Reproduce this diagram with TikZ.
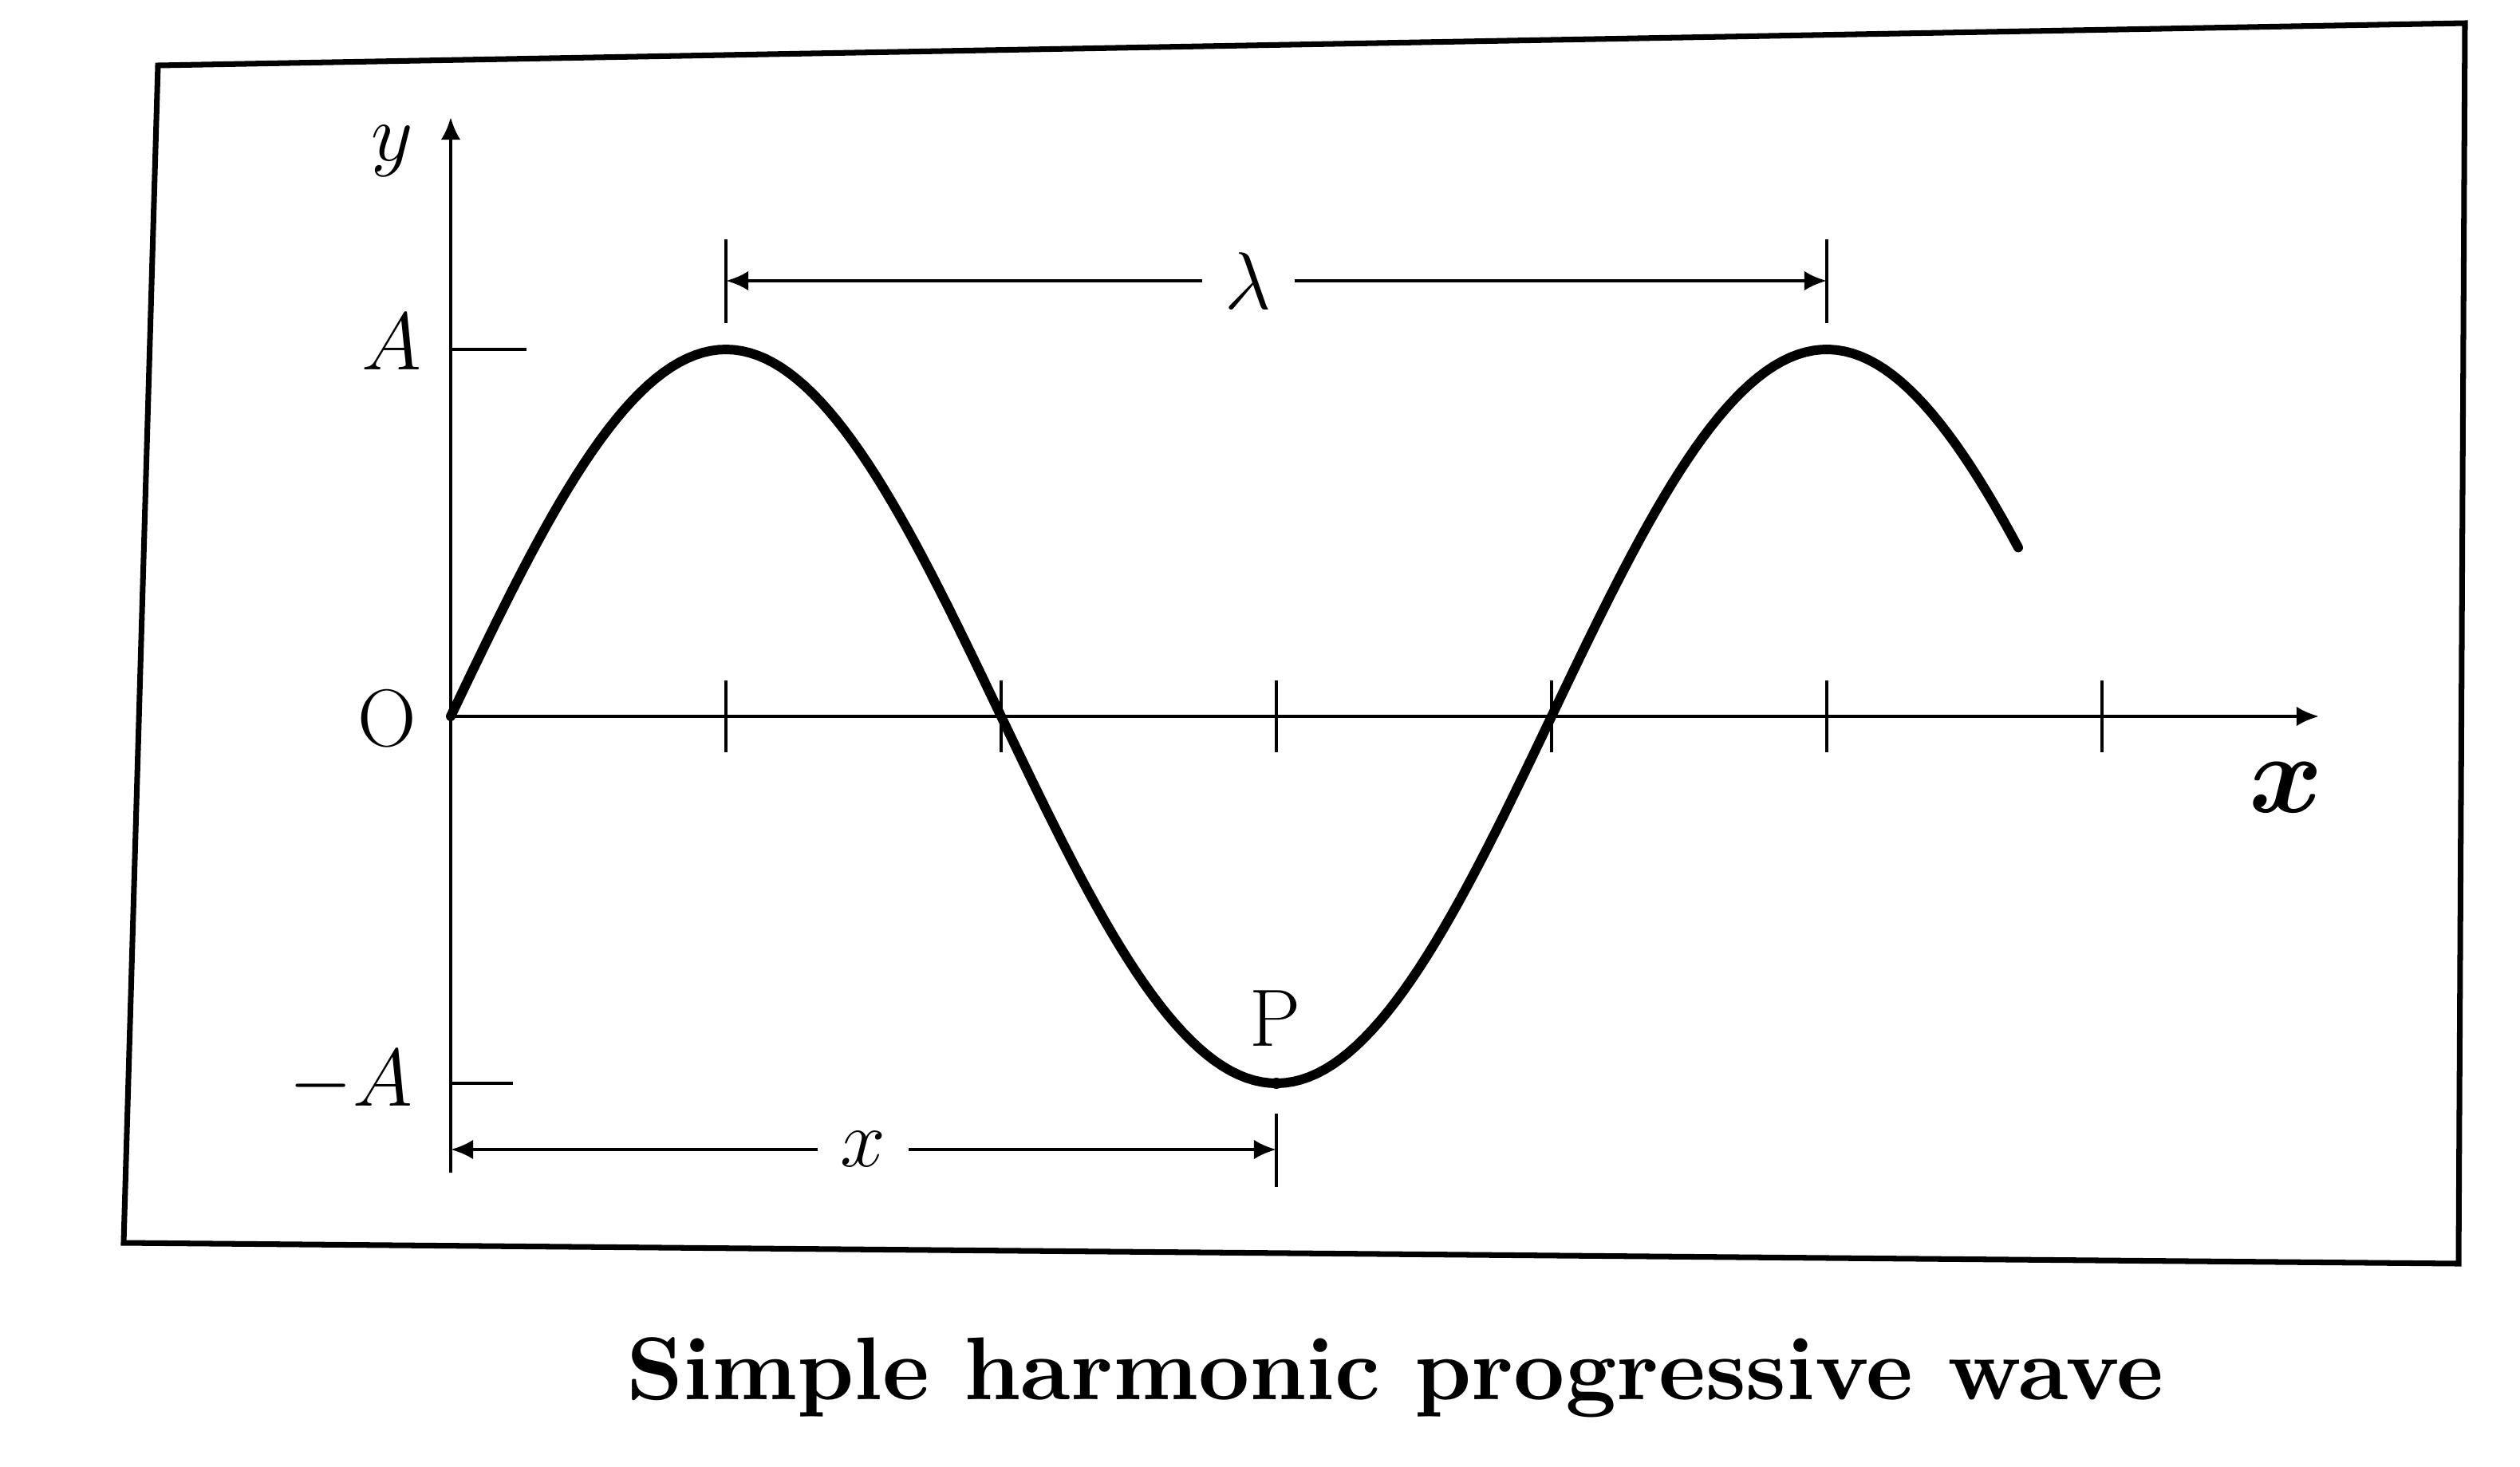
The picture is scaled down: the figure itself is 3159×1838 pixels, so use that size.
\RequirePackage{fix-cm}
\documentclass[tikz,border=0pt]{standalone}
\usepackage{fontspec}
\usepackage{graphicx}
\usetikzlibrary{arrows.meta}
\tikzset{
  axis/.style={line width=1.2pt,-{Latex[length=8pt,width=7pt]}},
  wave/.style={line width=3.4pt,line cap=round},
  tick/.style={line width=1pt},
  dimarrow/.style={line width=1.2pt,-{Latex[length=8pt,width=7pt]}},
  lbl/.style={font=\fontsize{29}{34}\selectfont,inner sep=0pt},
  biglbl/.style={font=\fontsize{40}{46}\selectfont\boldmath,inner sep=0pt},
}
\begin{document}
\begin{tikzpicture}[x=0.01cm,y=-0.01cm]
        \useasboundingbox (0,0) rectangle (3159,1838);

        % frame
        \draw[line width=2pt] (198,82) -- (3090,29) -- (3082,1584) -- (155,1558) -- cycle;

        % axes
        \coordinate (O) at (565,898);
        \draw[axis] (565,1470) -- (565,147) coordinate (ytip);
        \draw[axis] (O) -- (2907,898) coordinate (xtip);

        % quarter wavelength ticks
        \foreach \k in {1,...,6}
            \draw[tick] (565+345*\k,853) -- (565+345*\k,943);

        % the wave
        \draw[wave] plot[domain=0:1965,samples=200] ({565+\x},{898-460*sin(\x/1380*360)});

        % amplitude marks
        \draw[tick] (565,438) -- (660,438);
        \draw[tick] (565,1358) -- (643,1358);

        \node[lbl] (ylab) at (492,189) {$y$};
        \node[lbl] (Alab) at (491,429) {$A$};
        \node[lbl] (Olab) at (485,901) {O};
        \node[lbl] (mAlab) at (440,1356) {$-A$};
        \node[biglbl] (xlab) at (2866,987) {$x$};

        % wavelength
        \draw[tick] (910,300) -- (910,405);
        \draw[tick] (2290,300) -- (2290,405);
        \node[lbl,inner sep=8pt] (lam) at (1565,352) {$\lambda$};
        \draw[dimarrow] (lam.west) -- (910,352);
        \draw[dimarrow] (lam.east) -- (2290,352);

        % point P
        \fill (1600,1358) circle (7);
        \node[lbl] (Plab) at (1599,1277) {P};

        % distance x
        \draw[tick] (1600,1396) -- (1600,1488);
        \node[lbl,inner sep=8pt] (xdim) at (1082,1441) {$x$};
        \draw[dimarrow] (xdim.west) -- (565,1441);
        \draw[dimarrow] (xdim.east) -- (1600,1441);

        % caption
        \node (caption) at (1749,1727) {\resizebox{19.26cm}{!}{\bfseries Simple harmonic progressive wave}};
\end{tikzpicture}
\end{document}
